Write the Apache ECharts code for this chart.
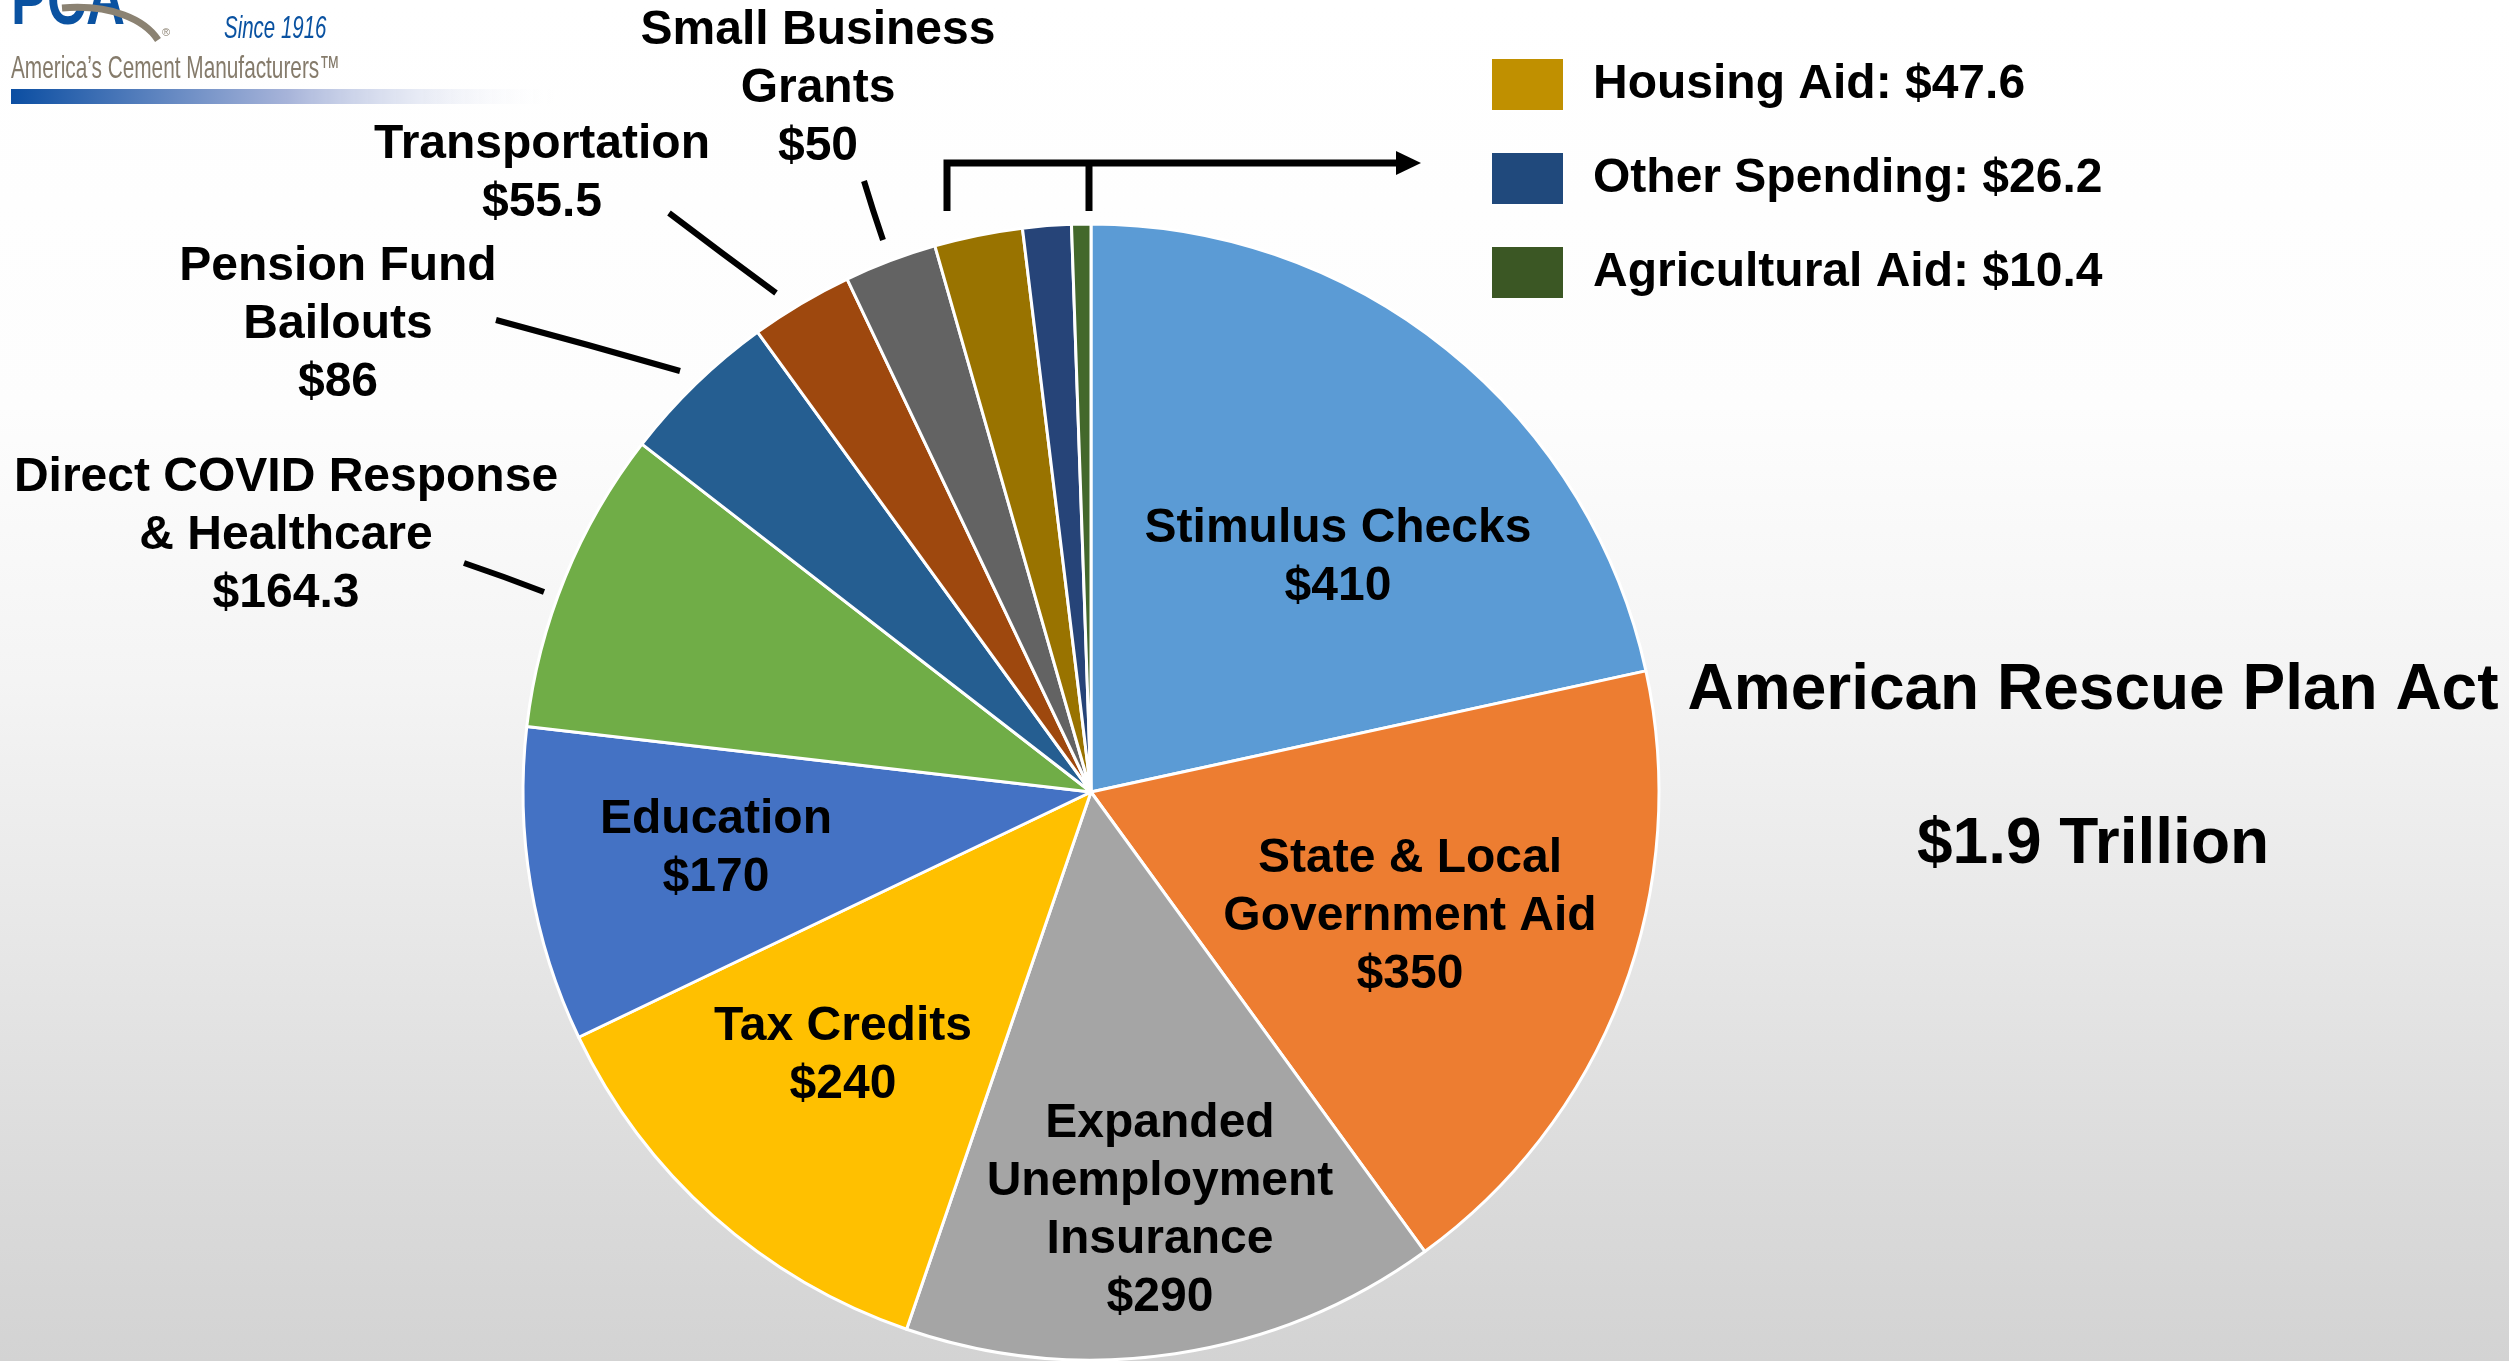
<!DOCTYPE html>
<html>
<head>
<meta charset="utf-8">
<style>
html,body{margin:0;padding:0;width:2509px;height:1361px;overflow:hidden;}
#chart{width:2509px;height:1361px;background:linear-gradient(to bottom,#ffffff 0%,#fdfdfd 30%,#f4f4f4 50%,#dadada 88%,#d3d3d3 100%);}
</style>
<script src="https://cdn.jsdelivr.net/npm/echarts@6/dist/echarts.min.js"></script>
</head>
<body>
<div id="chart"></div>
<script>
// ---- data ----
const categories = ['Stimulus Checks','State & Local Government Aid','Expanded Unemployment Insurance','Tax Credits','Education','Direct COVID Response & Healthcare','Pension Fund Bailouts','Transportation','Small Business Grants','Housing Aid','Other Spending','Agricultural Aid'];
const labelTexts = ['Stimulus Checks','State & Local\nGovernment Aid','Expanded\nUnemployment\nInsurance','Tax Credits','Education','Direct COVID Response\n& Healthcare','Pension Fund\nBailouts','Transportation','Small Business\nGrants','Housing Aid','Other Spending','Agricultural Aid'];
const values = [410, 350, 290, 240, 170, 164.3, 86, 55.5, 50, 47.6, 26.2, 10.4];
const legendNames = ['Housing Aid','Other Spending','Agricultural Aid'];
const titleText = 'American Rescue Plan Act';
const totalText = '$1.9 Trillion';

// ---- styles ----
const sliceColors = ['#5B9BD5','#ED7D31','#A5A5A5','#FFC000','#4472C4','#70AD47','#255E91','#9E480E','#636363','#997300','#264478','#43682B'];
const legendColors = ['#C09000','#20497C','#3B5724'];
const FONT = '"Liberation Sans", Arial, Helvetica, sans-serif';
const labelPos = [[1338,558],[1410,917],[1160,1211],[843,1056],[716,849],[286,536],[338,325],[542,174],[818,89]];
const leaderLines = {5:[[464,563],[504,577],[544,592]],6:[[496,320],[588,345],[680,371]],7:[[669,213],[722,253],[776,293]],8:[[864,181],[873,210],[883,240]]};

const chart = echarts.init(document.getElementById('chart'), null, {renderer:'canvas'});

const option = {
  backgroundColor: 'transparent',
  animation: false,
  legend: {
    orient: 'vertical',
    left: 1485,
    top: 52,
    itemWidth: 73,
    itemHeight: 53,
    itemGap: 39,
    icon: 'rect',
    selectedMode: false,
    data: legendNames.map((n, i) => ({name: n, itemStyle: {color: legendColors[i]}})),
    formatter: n => n + ': $' + values[categories.indexOf(n)],
    textStyle: {color:'#000', fontFamily: FONT, fontWeight:'bold', fontSize: 48, lineHeight: 53, padding:[0,0,0,24]}
  },
  series: [{
    type: 'pie',
    center: [1091, 792],
    radius: 568,
    startAngle: 90,
    clockwise: true,
    avoidLabelOverlap: false,
    silent: true,
    emphasis: {disabled: true},
    itemStyle: {borderColor:'#ffffff', borderWidth: 3},
    label: {
      show: true,
      color: '#000',
      fontFamily: FONT,
      fontWeight: 'bold',
      fontSize: 48,
      lineHeight: 58,
      align: 'center',
      formatter: p => labelTexts[p.dataIndex] + '\n$' + p.value
    },
    labelLine: {show: true, length: 20, length2: 0, lineStyle: {color:'#000', width: 6}},
    labelLayout: function (p) {
      const i = p.dataIndex;
      const pos = labelPos[i];
      if (!pos) return {};
      const r = {x: pos[0], y: pos[1], align: 'center', verticalAlign: 'middle'};
      if (leaderLines[i]) r.labelLinePoints = leaderLines[i];
      return r;
    },
    data: categories.map((n, i) => ({
      name: n,
      value: values[i],
      itemStyle: {color: sliceColors[i]},
      label: {show: i < 9, position: i < 5 ? 'inside' : 'outside'},
      labelLine: {show: i >= 5 && i < 9}
    }))
  }],
  graphic: [
    // bracket arrow for small slices
    {type:'polyline', shape:{points:[[947,211],[947,163],[1400,163]]}, style:{stroke:'#000', lineWidth:7, fill:null}, silent:true},
    {type:'line', shape:{x1:1089,y1:163,x2:1089,y2:211}, style:{stroke:'#000', lineWidth:7}, silent:true},
    {type:'polygon', shape:{points:[[1396,151],[1421,163],[1396,175]]}, style:{fill:'#000'}, silent:true},
    // titles
    {type:'text', x:2093, y:691, style:{text:titleText, fill:'#000', font:'bold 64px ' + FONT, textAlign:'center', textVerticalAlign:'middle', align:'center', verticalAlign:'middle'}, silent:true},
    {type:'text', x:2093, y:845, style:{text:totalText, fill:'#000', font:'bold 64px ' + FONT, textAlign:'center', textVerticalAlign:'middle', align:'center', verticalAlign:'middle'}, silent:true},
    // logo
    {type:'text', x:11, y:40, scaleX:0.75, style:{text:'PCA', fill:'#0A52A1', font:'bold 72px ' + FONT, textAlign:'left', textVerticalAlign:'bottom', align:'left', verticalAlign:'bottom'}, silent:true},
    {type:'bezierCurve', shape:{x1:62,y1:8,cpx1:112,cpy1:4,cpx2:145,cpy2:20,x2:158,y2:40}, style:{stroke:'#8B8272', lineWidth:7, fill:null}, silent:true},
    {type:'text', x:162, y:38, style:{text:'®', fill:'#8B8272', font:'11px ' + FONT, textAlign:'left', textVerticalAlign:'bottom', align:'left', verticalAlign:'bottom'}, silent:true},
    {type:'text', x:224, y:45, scaleX:0.64, style:{text:'Since 1916', fill:'#0A52A1', font:'italic 32px ' + FONT, textAlign:'left', textVerticalAlign:'bottom', align:'left', verticalAlign:'bottom'}, silent:true},
    {type:'text', x:11, y:69, scaleX:0.65, style:{text:'America\u2019s Cement Manufacturers\u2122', fill:'#857B6B', font:'32px ' + FONT, textAlign:'left', textVerticalAlign:'middle', align:'left', verticalAlign:'middle'}, silent:true},
    {type:'rect', shape:{x:11,y:89,width:550,height:15}, style:{fill: new echarts.graphic.LinearGradient(0,0,1,0,[{offset:0,color:'#0B4EA2'},{offset:0.5,color:'#A6B3D9'},{offset:1,color:'rgba(255,255,255,0)'}])}, silent:true}
  ]
};
chart.setOption(option);
</script>
</body>
</html>
